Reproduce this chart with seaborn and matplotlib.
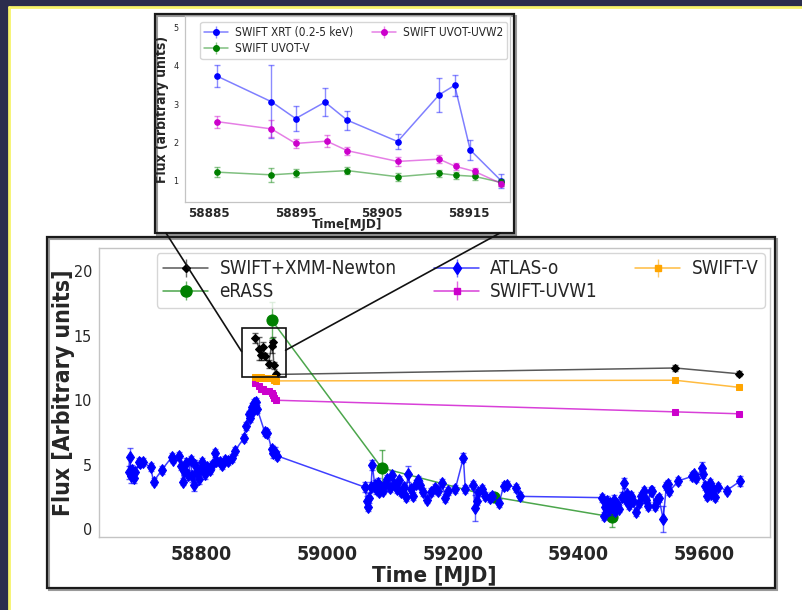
import numpy as np
import pandas as pd
import matplotlib
matplotlib.use("Agg")
import matplotlib.pyplot as plt
import seaborn as sns
from matplotlib.patches import Rectangle
from matplotlib.lines import Line2D
from matplotlib.colors import to_rgba

# ---------------- main panel data ----------------
atlas_mjd = [58684, 58686, 58688, 58689, 58692, 58695, 58701, 58703, 58707, 58719, 58724, 58737,
             58753, 58755, 58765, 58767, 58771, 58773, 58776, 58779, 58783, 58785, 58788, 58790,
             58793, 58796, 58799, 58801, 58806, 58809, 58813, 58817, 58821, 58824, 58829, 58833,
             58838, 58843, 58848, 58853, 58868, 58871, 58875, 58877, 58880, 58882, 58883, 58885,
             58887, 58889, 58901, 58905, 58912, 58914, 58917, 58920,
             59061, 59063, 59065, 59067, 59070, 59072, 59076, 59078, 59081, 59083, 59086, 59089,
             59093, 59096, 59100, 59104, 59107, 59111, 59115, 59118, 59122, 59125, 59129, 59133,
             59137, 59141, 59145, 59148, 59153, 59159, 59166, 59171, 59177, 59183, 59188, 59192,
             59204, 59217, 59220, 59233, 59235, 59239, 59241, 59247, 59252, 59259, 59263, 59274,
             59281, 59287, 59301, 59307,
             59438, 59441, 59443, 59446, 59448, 59451, 59453, 59456, 59459, 59462, 59465, 59470,
             59472, 59476, 59478, 59481, 59484, 59487, 59491, 59496, 59499, 59504, 59508, 59511,
             59515, 59517, 59522, 59525, 59528, 59535, 59540, 59542, 59545, 59559, 59581, 59584,
             59587, 59597, 59599, 59601, 59604, 59606, 59609, 59611, 59614, 59617, 59623, 59636,
             59658]
atlas_flux = [4.4, 5.6, 4.1, 4.6, 4.0, 4.4, 5.2, 5.1, 5.2, 4.8, 3.7, 4.6,
              5.6, 5.4, 5.7, 4.9, 3.7, 4.5, 5.1, 4.2, 5.4, 4.1, 3.4, 5.0,
              4.4, 3.9, 4.7, 5.2, 4.3, 4.85, 4.6, 5.0, 5.9, 5.3, 5.2, 5.0,
              5.4, 5.3, 5.5, 6.05, 7.1, 8.0, 8.9, 8.6, 9.5, 9.2, 9.8, 9.55,
              9.9, 9.3, 7.5, 7.45, 6.2, 5.9, 6.0, 5.7,
              3.25, 2.2, 1.7, 2.4, 3.3, 5.0, 3.4, 3.1, 3.6, 2.9, 3.3, 3.0,
              3.5, 3.9, 3.2, 4.2, 3.5, 3.1, 3.8, 2.9, 3.3, 2.5, 4.3, 3.1,
              2.6, 3.5, 3.8, 3.45, 2.9, 2.3, 2.9, 3.2, 2.95, 3.6, 2.45, 2.95,
              3.1, 5.55, 3.1, 3.45, 1.65, 2.2, 2.85, 3.1, 2.6, 2.45, 2.55, 2.06,
              3.35, 3.45, 3.2, 2.55,
              2.45, 1.05, 1.7, 2.2, 1.5, 2.0, 1.75, 2.3, 1.4, 1.95, 1.6, 2.5,
              3.6, 2.3, 2.7, 1.85, 2.6, 2.2, 1.3, 2.0, 2.6, 3.0, 2.3, 1.8,
              2.95, 3.0, 1.8, 2.3, 2.45, 0.8, 3.35, 3.5, 2.95, 3.75, 4.1, 4.25,
              4.0, 4.75, 4.25, 3.35, 2.6, 2.95, 3.6, 2.7, 3.1, 2.5, 3.3, 3.0,
              3.75]
atlas_err = [0.5, 0.7, 0.5, 0.4, 0.4, 0.4, 0.3, 0.3, 0.3, 0.3, 0.3, 0.3,
             0.3, 0.3, 0.3, 0.3, 0.3, 0.3, 0.4, 0.4, 0.3, 0.4, 0.4, 0.4,
             0.4, 0.4, 0.4, 0.3, 0.4, 0.3, 0.3, 0.3, 0.3, 0.3, 0.3, 0.3,
             0.3, 0.3, 0.3, 0.3, 0.3, 0.3, 0.3, 0.3, 0.3, 0.3, 0.3, 0.3,
             0.3, 0.3, 0.3, 0.3, 0.35, 0.35, 0.4, 0.35,
             0.4, 0.4, 0.3, 0.4, 0.4, 0.4, 0.4, 0.4, 0.4, 0.3, 0.3, 0.3,
             0.3, 0.3, 0.3, 0.3, 0.3, 0.3, 0.3, 0.3, 0.3, 0.3, 0.6, 0.3,
             0.3, 0.3, 0.3, 0.3, 0.3, 0.3, 0.3, 0.3, 0.3, 0.3, 0.3, 0.3,
             0.3, 0.35, 0.3, 0.3, 1.0, 0.3, 0.3, 0.3, 0.3, 0.3, 0.3, 0.3,
             0.3, 0.3, 0.3, 0.3,
             0.3, 0.3, 0.35, 0.35, 0.4, 0.35, 0.35, 0.35, 0.3, 0.35, 0.3, 0.4,
             0.4, 0.35, 0.3, 0.3, 0.3, 0.3, 0.3, 0.3, 0.3, 0.3, 0.3, 0.3,
             0.3, 0.3, 0.3, 0.3, 0.3, 1.0, 0.3, 0.3, 0.3, 0.3, 0.3, 0.3,
             0.3, 0.5, 0.3, 0.3, 0.3, 0.3, 0.3, 0.3, 0.3, 0.3, 0.3, 0.3,
             0.4]

erass_mjd = [58912, 59087, 59266, 59454]
erass_flux = [16.2, 4.75, 2.5, 0.95]
erass_err = [1.4, 1.4, 0.3, 0.8]

xmm_mjd = [58885.9, 58892.2, 58895.0, 58898.4, 58900.95, 58906.8, 58911.6, 58913.4, 58915.2,
           58918.8, 59554, 59656]
xmm_flux = [14.8, 14.0, 13.5, 14.1, 13.4, 12.8, 14.2, 14.5, 12.7, 12.0, 12.5, 12.05]
xmm_err = [0.4, 0.9, 0.4, 0.4, 0.3, 0.3, 0.5, 0.4, 0.3, 0.2, 0.25, 0.2]

uvw1_mjd = [58885.9, 58892.2, 58895.0, 58898.6, 58901.0, 58906.8, 58911.6, 58913.5, 58915.7,
            58918.8, 59554, 59656]
uvw1_flux = [11.3, 11.1, 10.9, 10.85, 10.75, 10.7, 10.6, 10.4, 10.2, 10.0, 9.1, 8.95]
uvw1_err = [0.15, 0.15, 0.12, 0.12, 0.12, 0.12, 0.12, 0.1, 0.1, 0.1, 0.08, 0.08]

swv_mjd = [58885.9, 58892.2, 58895.0, 58901.0, 58906.8, 58911.6, 58913.5, 58915.7, 58918.8,
           59554, 59656]
swv_flux = [11.8, 11.75, 11.8, 11.75, 11.7, 11.75, 11.72, 11.6, 11.5, 11.55, 11.0]
swv_err = [0.12, 0.12, 0.1, 0.1, 0.1, 0.1, 0.1, 0.1, 0.1, 0.1, 0.1]

main_xticks = [58800, 59000, 59200, 59400, 59600]
main_yticks = [0, 5, 10, 15, 20]

# zoom box (data coordinates of main panel)
box_mjd = (58864, 58934)
box_flux = (11.8, 15.6)

# ---------------- inset data ----------------
xrt_mjd = [58885.9, 58892.2, 58895.0, 58898.4, 58900.95, 58906.8, 58911.6, 58913.4, 58915.2, 58918.8]
xrt_flux = [3.73, 3.06, 2.62, 3.05, 2.58, 2.02, 3.24, 3.49, 1.8, 0.99]
xrt_err = [0.28, 0.95, 0.33, 0.37, 0.25, 0.2, 0.44, 0.28, 0.25, 0.18]

uvw2_mjd = [58885.9, 58892.2, 58895.0, 58898.6, 58901.0, 58906.8, 58911.6, 58913.5, 58915.7, 58918.8]
uvw2_flux = [2.54, 2.35, 1.97, 2.03, 1.78, 1.5, 1.56, 1.37, 1.24, 0.92]
uvw2_err = [0.16, 0.22, 0.12, 0.16, 0.11, 0.11, 0.11, 0.09, 0.08, 0.07]

uvv_mjd = [58885.9, 58892.2, 58895.0, 58901.0, 58906.8, 58911.6, 58913.5, 58915.7, 58918.8]
uvv_flux = [1.22, 1.15, 1.19, 1.26, 1.1, 1.19, 1.14, 1.11, 0.95]
uvv_err = [0.13, 0.18, 0.1, 0.1, 0.1, 0.09, 0.09, 0.09, 0.08]

inset_xticks = [58885, 58895, 58905, 58915]
inset_yticks = [1, 2, 3, 4, 5]

# ---------------- style ----------------
sns.set_style("white")
plt.rcParams["font.family"] = ["DejaVu Sans"]
plt.rcParams["font.stretch"] = "condensed"

W, H = 802, 610
fig = plt.figure(figsize=(W / 100, H / 100), dpi=100)
fig.patch.set_facecolor("#2b2d4d")


def fx(px):
    return px / W


def fy(py):
    return (H - py) / H


# white slide with yellow edge
fig.add_artist(Rectangle((fx(9), 0), 1, fy(7), transform=fig.transFigure,
                         facecolor="white", edgecolor="none", zorder=-10))
fig.add_artist(Line2D([fx(9), fx(9)], [0, fy(7)], transform=fig.transFigure,
                      color="#f7f36a", lw=2, zorder=-9))
fig.add_artist(Line2D([fx(9), 1], [fy(7), fy(7)], transform=fig.transFigure,
                      color="#f7f36a", lw=2, zorder=-9))

# frames
for (x0, y0, x1, y1) in [(47, 237, 775, 588), (155, 14, 514, 233)]:
    fig.add_artist(Rectangle((fx(x0 + 1.5), fy(y1 + 1.5)), fx(x1 - x0), (y1 - y0) / H,
                             transform=fig.transFigure, fill=False,
                             edgecolor="#9a9a9a", lw=1.5, zorder=-5))
    fig.add_artist(Rectangle((fx(x0), fy(y1)), fx(x1 - x0), (y1 - y0) / H,
                             transform=fig.transFigure, fill=False,
                             edgecolor="#1a1a1a", lw=1.6, zorder=-4))

ax = fig.add_axes([fx(99), fy(537), fx(770 - 99), (537 - 248) / H])
axin = fig.add_axes([fx(185), fy(202), fx(510 - 185), (202 - 16) / H])


def series(axis, x, y, err, color, marker, ms, label, lw=1.1, la=0.75, ea=0.6, cap=2.5):
    df = pd.DataFrame({"x": x, "y": y})
    sns.lineplot(data=df, x="x", y="y", ax=axis, estimator=None, sort=False,
                 color=color, marker=marker, markersize=ms, linewidth=lw)
    ln = axis.lines[-1]
    ln.set_color(to_rgba(color, la))
    ln.set_markerfacecolor(color)
    ln.set_markeredgecolor(color)
    axis.errorbar(x, y, yerr=err, fmt="none", ecolor=to_rgba(color, ea),
                  elinewidth=1.0, capsize=cap, capthick=1.0)
    proxy = axis.errorbar([], [], yerr=[], fmt="-" + marker, color=to_rgba(color, la),
                          markerfacecolor=color, markeredgecolor=color, markersize=ms,
                          ecolor=to_rgba(color, ea), elinewidth=1.0, capsize=cap,
                          lw=lw, label=label)
    return proxy


# ---------------- main panel ----------------
h1 = series(ax, xmm_mjd, xmm_flux, xmm_err, "#000000", "D", 4.5, "SWIFT+XMM-Newton", la=0.65)
h2 = series(ax, erass_mjd, erass_flux, erass_err, "#008000", "o", 8, "eRASS", la=0.7)
h3 = series(ax, atlas_mjd, atlas_flux, atlas_err, "#0000ff", "d", 6, "ATLAS-o", la=0.75)
h4 = series(ax, uvw1_mjd, uvw1_flux, uvw1_err, "#cc00cc", "s", 4, "SWIFT-UVW1", la=0.75)
h5 = series(ax, swv_mjd, swv_flux, swv_err, "#ffa500", "s", 5, "SWIFT-V", la=0.75)

ax.set_xlim(58637, 59705)
ax.set_ylim(-0.6, 21.8)
ax.set_xticks(main_xticks)
ax.set_yticks(main_yticks)
ax.set_xlabel("Time [MJD]", fontsize=16, fontweight="bold", labelpad=1)
ax.set_ylabel("Flux [Arbitrary units]", fontsize=16.5, fontweight="bold", labelpad=-1)
ax.tick_params(axis="x", labelsize=14, length=3, color="#999999", pad=3)
ax.tick_params(axis="y", labelsize=11.5, length=3, color="#999999", pad=2)
for t in ax.get_xticklabels():
    t.set_fontweight("bold")
for s in ax.spines.values():
    s.set_color("#c4c4c4")
    s.set_linewidth(1.0)
ax.set_facecolor("white")

leg = ax.legend(handles=[h1, h2, h3, h4, h5], ncol=3, loc="upper right",
                bbox_to_anchor=(0.9925, 0.983), borderaxespad=0, fontsize=13.5, frameon=True,
                handlelength=2.4, handletextpad=0.6, columnspacing=2.0, borderpad=0.35,
                labelspacing=0.2)
leg.get_frame().set_edgecolor("#cccccc")

# zoom box
ax.add_patch(Rectangle((box_mjd[0], box_flux[0]), box_mjd[1] - box_mjd[0],
                       box_flux[1] - box_flux[0], fill=False, edgecolor="#111111",
                       lw=1.2, zorder=10))

# connector lines from inset frame to zoom box
to_fig = ax.transData + fig.transFigure.inverted()
ymid = box_flux[0] + 0.52 * (box_flux[1] - box_flux[0])
pl = to_fig.transform((box_mjd[0], ymid))
pr = to_fig.transform((box_mjd[1], ymid + 0.1))
fig.add_artist(Line2D([fx(166), pl[0]], [fy(233), pl[1]], transform=fig.transFigure,
                      color="#111111", lw=1.2, zorder=20))
fig.add_artist(Line2D([fx(500), pr[0]], [fy(233), pr[1]], transform=fig.transFigure,
                      color="#111111", lw=1.2, zorder=20))

# ---------------- inset ----------------
g1 = series(axin, xrt_mjd, xrt_flux, xrt_err, "#0000ff", "o", 4, "SWIFT XRT (0.2-5 keV)",
            la=0.5, ea=0.45, cap=2)
g2 = series(axin, uvv_mjd, uvv_flux, uvv_err, "#008000", "o", 4, "SWIFT UVOT-V",
            la=0.5, ea=0.45, cap=2)
g3 = series(axin, uvw2_mjd, uvw2_flux, uvw2_err, "#cc00cc", "o", 4, "SWIFT UVOT-UVW2",
            la=0.5, ea=0.45, cap=2)
axin.set_xlim(58882.2, 58919.8)
axin.set_ylim(0.44, 5.3)
axin.set_xticks(inset_xticks)
axin.set_yticks(inset_yticks)
axin.set_xlabel("Time[MJD]", fontsize=9.5, fontweight="bold", labelpad=-1)
axin.set_ylabel("Flux (arbitrary units)", fontsize=10, fontweight="bold", labelpad=3)
axin.tick_params(axis="x", labelsize=9.5, length=2.5, color="#999999", pad=1)
axin.tick_params(axis="y", labelsize=6.5, length=2.5, color="#999999", pad=2)
for t in axin.get_xticklabels():
    t.set_fontweight("bold")
for s in axin.spines.values():
    s.set_color("#c4c4c4")
    s.set_linewidth(0.9)
legi = axin.legend(handles=[g1, g2, g3], ncol=2, loc="upper right", bbox_to_anchor=(0.991, 0.968),
                   borderaxespad=0, fontsize=8.5, frameon=True, handlelength=2.0,
                   handletextpad=0.6, columnspacing=1.6, borderpad=0.35, labelspacing=0.25)
legi.get_frame().set_edgecolor("#cccccc")

fig.savefig("out.png", dpi=100, facecolor=fig.get_facecolor())
